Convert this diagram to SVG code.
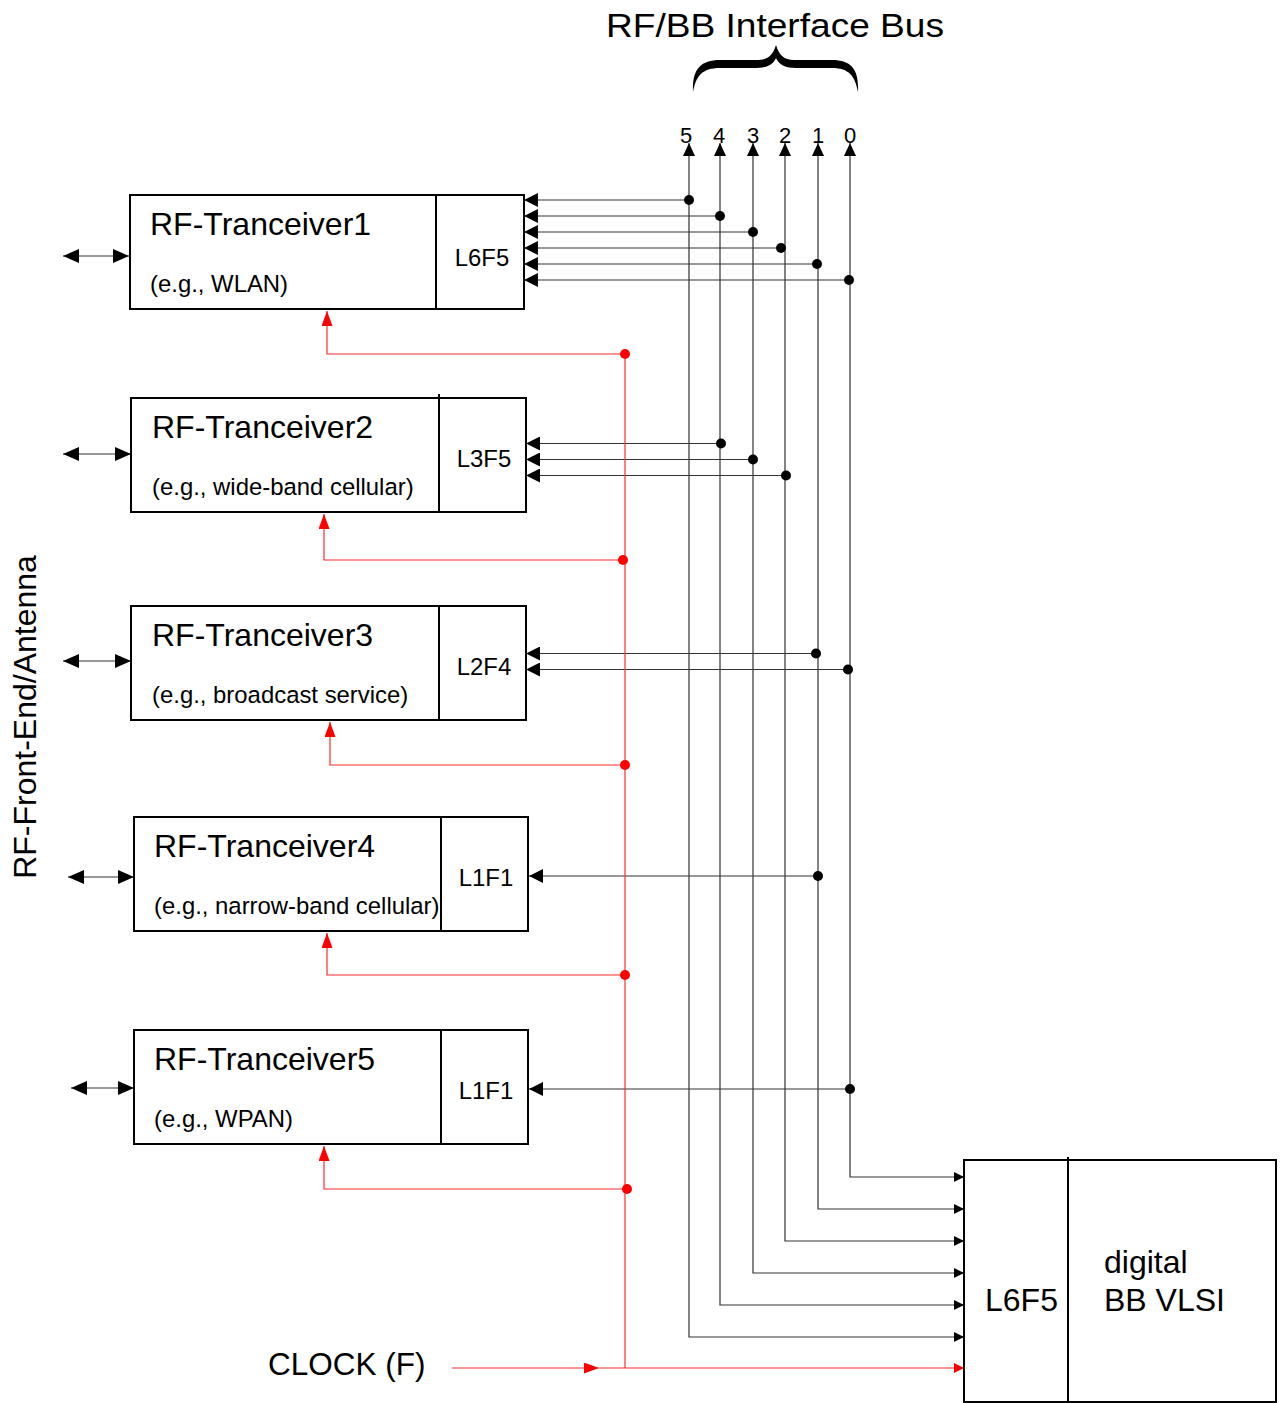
<svg xmlns="http://www.w3.org/2000/svg" width="1282" height="1403" viewBox="0 0 1282 1403">
<style>
text{font-family:"Liberation Sans",Arial,sans-serif;fill:#000}
.box{fill:#fff;stroke:#000;stroke-width:2}
.div{stroke:#000;stroke-width:2}
.t{font-size:32px}
.s{font-size:23.9px}
.c{stroke:#333;stroke-width:1.2;fill:none}
.r{stroke:#ff2a2a;stroke-width:1.2;fill:none}
.dot{fill:#000}
.rdot{fill:#ff0000}
</style>
<defs>
<marker id="ap" markerUnits="userSpaceOnUse" viewBox="0 0 14 14" markerWidth="14" markerHeight="14" refX="14" refY="7" orient="auto"><path d="M0,0 L14,7 L0,14 Z" fill="#000"/></marker>
<marker id="at" markerUnits="userSpaceOnUse" viewBox="0 0 13 12" markerWidth="13" markerHeight="12" refX="13" refY="6" orient="auto-start-reverse"><path d="M0,0 L13,6 L0,12 Z" fill="#000"/></marker>
<marker id="ab" markerUnits="userSpaceOnUse" viewBox="0 0 10 10" markerWidth="10" markerHeight="10" refX="10" refY="5" orient="auto"><path d="M0,0 L10,5 L0,10 Z" fill="#000"/></marker>
<marker id="al" markerUnits="userSpaceOnUse" viewBox="0 0 16 14" markerWidth="16" markerHeight="14" refX="16" refY="7" orient="auto-start-reverse"><path d="M0,0 L16,7 L0,14 Z" fill="#000"/></marker>
<marker id="ar" markerUnits="userSpaceOnUse" viewBox="0 0 15 11" markerWidth="15" markerHeight="11" refX="15" refY="5.5" orient="auto"><path d="M0,0 L15,5.5 L0,11 Z" fill="#ff0000"/></marker>
<marker id="arb" markerUnits="userSpaceOnUse" viewBox="0 0 10 10" markerWidth="10" markerHeight="10" refX="10" refY="5" orient="auto"><path d="M0,0 L10,5 L0,10 Z" fill="#ff0000"/></marker>
</defs>

<g id="title">
<text x="606" y="37" style="font-size:34px" textLength="338" lengthAdjust="spacingAndGlyphs">RF/BB Interface Bus</text>
<path d="M693,92 C692,70 700,60 720,60 L758,60 C768,60 773,55 776,45 C779,55 784,60 794,60 L832,60 C852,60 859,70 858,92 C855,76 849,68 832,68 L796,68 C786,68 779,65 776,58 C773,65 766,68 756,68 L720,68 C702,68 696,76 693,92 Z" fill="#000"/>
<g style="font-size:22px" text-anchor="middle">
<text x="686" y="143">5</text><text x="719" y="143">4</text><text x="753" y="143">3</text><text x="785" y="143">2</text><text x="818" y="143">1</text><text x="850" y="143">0</text>
</g>
</g>

<text id="frontend" transform="translate(36,717) rotate(-90)" text-anchor="middle" style="font-size:32px">RF-Front-End/Antenna</text>

<g id="connectors">
<polyline class="c" points="850,143 850,1177 964,1177" marker-start="url(#at)" marker-end="url(#ab)"/>
<polyline class="c" points="818,143 818,1209 964,1209" marker-start="url(#at)" marker-end="url(#ab)"/>
<polyline class="c" points="785,143 785,1241 964,1241" marker-start="url(#at)" marker-end="url(#ab)"/>
<polyline class="c" points="753,143 753,1273 964,1273" marker-start="url(#at)" marker-end="url(#ab)"/>
<polyline class="c" points="720,143 720,1305 964,1305" marker-start="url(#at)" marker-end="url(#ab)"/>
<polyline class="c" points="689,143 689,1337 964,1337" marker-start="url(#at)" marker-end="url(#ab)"/>
<line class="c" x1="689" y1="200" x2="524" y2="200" marker-end="url(#ap)"/>
<line class="c" x1="720" y1="216" x2="524" y2="216" marker-end="url(#ap)"/>
<line class="c" x1="753" y1="232" x2="524" y2="232" marker-end="url(#ap)"/>
<line class="c" x1="782" y1="248" x2="524" y2="248" marker-end="url(#ap)"/>
<line class="c" x1="817" y1="264" x2="524" y2="264" marker-end="url(#ap)"/>
<line class="c" x1="849" y1="280" x2="524" y2="280" marker-end="url(#ap)"/>
<line class="c" x1="720" y1="443.5" x2="526" y2="443.5" marker-end="url(#ap)"/>
<line class="c" x1="753" y1="459.5" x2="526" y2="459.5" marker-end="url(#ap)"/>
<line class="c" x1="785" y1="475.5" x2="526" y2="475.5" marker-end="url(#ap)"/>
<line class="c" x1="816" y1="653.5" x2="526" y2="653.5" marker-end="url(#ap)"/>
<line class="c" x1="848" y1="669.5" x2="526" y2="669.5" marker-end="url(#ap)"/>
<line class="c" x1="818" y1="876" x2="529" y2="876" marker-end="url(#ap)"/>
<line class="c" x1="850" y1="1089" x2="529" y2="1089" marker-end="url(#ap)"/>
<circle class="dot" cx="689" cy="200" r="5"/><circle class="dot" cx="720" cy="216" r="5"/><circle class="dot" cx="753" cy="232" r="5"/><circle class="dot" cx="781" cy="248" r="5"/><circle class="dot" cx="817" cy="264" r="5"/><circle class="dot" cx="849" cy="280" r="5"/>
<circle class="dot" cx="721" cy="443.5" r="5"/><circle class="dot" cx="753" cy="459.5" r="5"/><circle class="dot" cx="786" cy="475.5" r="5"/>
<circle class="dot" cx="816" cy="653.5" r="5"/><circle class="dot" cx="848" cy="669.5" r="5"/>
<circle class="dot" cx="818" cy="876" r="5"/><circle class="dot" cx="850" cy="1089" r="5"/>
<line class="c" x1="63" y1="256" x2="129" y2="256" marker-start="url(#al)" marker-end="url(#al)"/>
<line class="c" x1="63" y1="454" x2="131" y2="454" marker-start="url(#al)" marker-end="url(#al)"/>
<line class="c" x1="63" y1="661" x2="131" y2="661" marker-start="url(#al)" marker-end="url(#al)"/>
<line class="c" x1="68" y1="877" x2="134" y2="877" marker-start="url(#al)" marker-end="url(#al)"/>
<line class="c" x1="71" y1="1088" x2="134" y2="1088" marker-start="url(#al)" marker-end="url(#al)"/>
<line class="r" x1="625" y1="354" x2="625" y2="1368"/>
<line class="r" x1="452" y1="1368" x2="599" y2="1368" marker-end="url(#ar)"/>
<line class="r" x1="599" y1="1368" x2="964" y2="1368" marker-end="url(#arb)"/>
<polyline class="r" points="625,354 327,354 327,311" marker-end="url(#ar)"/>
<polyline class="r" points="623,560 324,560 324,514" marker-end="url(#ar)"/>
<polyline class="r" points="625,765 330,765 330,722" marker-end="url(#ar)"/>
<polyline class="r" points="625,975 327,975 327,933" marker-end="url(#ar)"/>
<polyline class="r" points="626,1189 324,1189 324,1146" marker-end="url(#ar)"/>
<circle class="rdot" cx="625" cy="354" r="5"/><circle class="rdot" cx="623" cy="560" r="5"/><circle class="rdot" cx="625" cy="765" r="5"/><circle class="rdot" cx="625" cy="975" r="5"/><circle class="rdot" cx="627" cy="1189" r="5"/>
</g>

<g id="rf1">
<rect class="box" x="130" y="195" width="394" height="114"/>
<line class="div" x1="436" y1="195" x2="436" y2="309"/>
<text class="t" x="150" y="235">RF-Tranceiver1</text>
<text class="s" x="150" y="292">(e.g., WLAN)</text>
<text class="s" x="482" y="266" text-anchor="middle">L6F5</text>
</g>
<g id="rf2">
<rect class="box" x="131" y="398" width="395" height="114"/>
<line class="div" x1="439" y1="394" x2="439" y2="512"/>
<text class="t" x="152" y="438">RF-Tranceiver2</text>
<text class="s" x="152" y="495">(e.g., wide-band cellular)</text>
<text class="s" x="484" y="467" text-anchor="middle">L3F5</text>
</g>
<g id="rf3">
<rect class="box" x="131" y="606" width="395" height="114"/>
<line class="div" x1="439" y1="606" x2="439" y2="720"/>
<text class="t" x="152" y="646">RF-Tranceiver3</text>
<text class="s" x="152" y="703">(e.g., broadcast service)</text>
<text class="s" x="484" y="675" text-anchor="middle">L2F4</text>
</g>
<g id="rf4">
<rect class="box" x="134" y="817" width="394" height="114"/>
<line class="div" x1="441" y1="817" x2="441" y2="931"/>
<text class="t" x="154" y="857">RF-Tranceiver4</text>
<text class="s" x="154" y="914">(e.g., narrow-band cellular)</text>
<text class="s" x="486" y="886" text-anchor="middle">L1F1</text>
</g>
<g id="rf5">
<rect class="box" x="134" y="1030" width="394" height="114"/>
<line class="div" x1="441" y1="1030" x2="441" y2="1144"/>
<text class="t" x="154" y="1070">RF-Tranceiver5</text>
<text class="s" x="154" y="1127">(e.g., WPAN)</text>
<text class="s" x="486" y="1099" text-anchor="middle">L1F1</text>
</g>

<g id="bb">
<rect class="box" x="964" y="1160" width="312" height="242"/>
<line class="div" x1="1068" y1="1157" x2="1068" y2="1402"/>
<text class="t" x="985" y="1311">L6F5</text>
<text class="t" x="1104" y="1273">digital</text>
<text class="t" x="1104" y="1311">BB VLSI</text>
</g>

<text id="clock" x="268" y="1375" style="font-size:31.5px">CLOCK (F)</text>
</svg>
